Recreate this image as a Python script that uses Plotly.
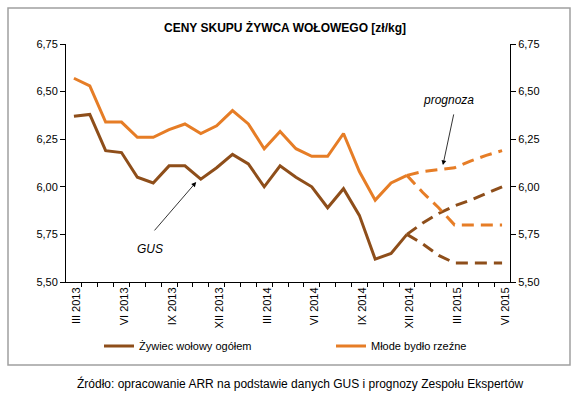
import plotly.graph_objects as go

months = ["III 2013", "IV 2013", "V 2013", "VI 2013", "VII 2013", "VIII 2013", "IX 2013",
          "X 2013", "XI 2013", "XII 2013", "I 2014", "II 2014", "III 2014", "IV 2014",
          "V 2014", "VI 2014", "VII 2014", "VIII 2014", "IX 2014", "X 2014", "XI 2014",
          "XII 2014", "I 2015", "II 2015", "III 2015", "IV 2015", "V 2015", "VI 2015"]
label_months = ["III 2013", "VI 2013", "IX 2013", "XII 2013", "III 2014", "VI 2014",
                "IX 2014", "XII 2014", "III 2015", "VI 2015"]

zywiec = [6.37, 6.38, 6.19, 6.18, 6.05, 6.02, 6.11, 6.11, 6.04, 6.10, 6.17, 6.12,
          6.00, 6.11, 6.05, 6.00, 5.89, 5.99, 5.85, 5.62, 5.65, 5.75]
mlode = [6.57, 6.53, 6.34, 6.34, 6.26, 6.26, 6.30, 6.33, 6.28, 6.32, 6.40, 6.33,
         6.20, 6.29, 6.20, 6.16, 6.16, 6.28, 6.08, 5.93, 6.02, 6.06]

forecast_months = months[21:]
zywiec_high = [5.75, 5.81, 5.86, 5.90, 5.93, 5.965, 6.00]
zywiec_low = [5.75, 5.70, 5.64, 5.60, 5.60, 5.60, 5.60]
mlode_high = [6.06, 6.08, 6.09, 6.10, 6.135, 6.165, 6.19]
mlode_low = [6.06, 5.97, 5.89, 5.80, 5.80, 5.80, 5.80]

BROWN = "#8E4E1A"
ORANGE = "#E67D26"
FONT = "Arial, Liberation Sans, sans-serif"

idx = {m: i for i, m in enumerate(months)}
x_hist = [idx[m] for m in months[:len(zywiec)]]
x_fc = [idx[m] for m in forecast_months]

fig = go.Figure()
fig.add_trace(go.Scatter(x=x_hist, y=zywiec, mode="lines", name="Żywiec wołowy ogółem",
                         line=dict(color=BROWN, width=3), legend="legend"))
fig.add_trace(go.Scatter(x=x_hist, y=mlode, mode="lines", name="Młode bydło rzeźne",
                         line=dict(color=ORANGE, width=3), legend="legend2"))
for ys, col in [(zywiec_high, BROWN), (zywiec_low, BROWN), (mlode_high, ORANGE), (mlode_low, ORANGE)]:
    fig.add_trace(go.Scatter(x=x_fc, y=ys, mode="lines", showlegend=False,
                             line=dict(color=col, width=3, dash="12px,7px")))
# right axis carrier
fig.add_trace(go.Scatter(x=x_fc, y=mlode_low, yaxis="y2", mode="lines", showlegend=False,
                         hoverinfo="skip", line=dict(color="rgba(0,0,0,0)", width=0)))

yax = dict(range=[5.5, 6.75], dtick=0.25, tick0=5.5, tickformat=".2f", showgrid=False,
           zeroline=False, showline=True, linecolor="black", linewidth=1,
           ticks="outside", ticklen=5, tickcolor="black",
           tickfont=dict(family=FONT, size=11, color="black"))

leg = dict(orientation="h", xanchor="left", y=(282 - 346) / 238, yanchor="middle",
           font=dict(family=FONT, size=11, color="black"), bgcolor="rgba(0,0,0,0)")

fig.update_layout(
    width=586, height=395,
    margin=dict(l=66, r=76, t=44, b=113, autoexpand=False),
    paper_bgcolor="white", plot_bgcolor="white",
    separators=", ",
    font=dict(family=FONT, size=11, color="black"),
    title=dict(text="<b>CENY SKUPU ŻYWCA WOŁOWEGO [zł/kg]</b>", x=285/586, xanchor="center",
               y=1 - 28/395, yanchor="middle", font=dict(family=FONT, size=12, color="black")),
    xaxis=dict(range=[-0.5, len(months) - 0.5], tickmode="array",
               tickvals=[idx[m] for m in label_months], ticktext=label_months,
               tickangle=-90, ticks="", showgrid=False, zeroline=False,
               showline=True, linecolor="black", linewidth=1,
               tickfont=dict(family=FONT, size=11, color="black"),
               ticklabelshift=3,
               minor=dict(tickmode="array",
                          tickvals=[i + 0.5 for i in range(len(months) - 1)],
                          ticks="outside", ticklen=4, tickcolor="black", showgrid=False)),
    yaxis=yax,
    yaxis2=dict(yax, overlaying="y", side="right"),
    legend=dict(leg, x=(99 - 66) / 444),
    legend2=dict(leg, x=(331 - 66) / 444),
    showlegend=True,
)

fig.add_annotation(text="<i>prognoza</i>", x=23.65, y=6.456, xref="x", yref="y",
                   showarrow=False, font=dict(family=FONT, size=12, color="black"))
fig.add_annotation(text="", x=23.27, y=6.114, ax=23.97, ay=6.388, xref="x", yref="y",
                   axref="x", ayref="y", showarrow=True, arrowhead=2, arrowsize=1.2,
                   arrowwidth=0.8, arrowcolor="black")
fig.add_annotation(text="<i>GUS</i>", x=4.81, y=5.673, xref="x", yref="y",
                   showarrow=False, font=dict(family=FONT, size=12, color="black"))
fig.add_annotation(text="", x=7.71, y=6.025, ax=5.0, ay=5.763, xref="x", yref="y",
                   axref="x", ayref="y", showarrow=True, arrowhead=2, arrowsize=1.2,
                   arrowwidth=0.8, arrowcolor="black")
fig.add_annotation(text="Źródło: opracowanie ARR na podstawie danych GUS i prognozy Zespołu Ekspertów",
                   x=(300 - 66) / 444, y=(282 - 383) / 238, xref="paper", yref="paper",
                   xanchor="center", yanchor="middle",
                   showarrow=False, font=dict(family=FONT, size=12, color="black"))

fig.add_shape(type="rect", xref="paper", yref="paper",
              x0=(8 - 66) / 444, x1=(570 - 66) / 444, y0=(282 - 365) / 238, y1=(282 - 8) / 238,
              line=dict(color="#A0A0A0", width=1.5), fillcolor="rgba(0,0,0,0)")

fig.write_html("out.html", config={"displayModeBar": False},
               post_script="document.body.style.margin='0';document.body.style.padding='0';")
